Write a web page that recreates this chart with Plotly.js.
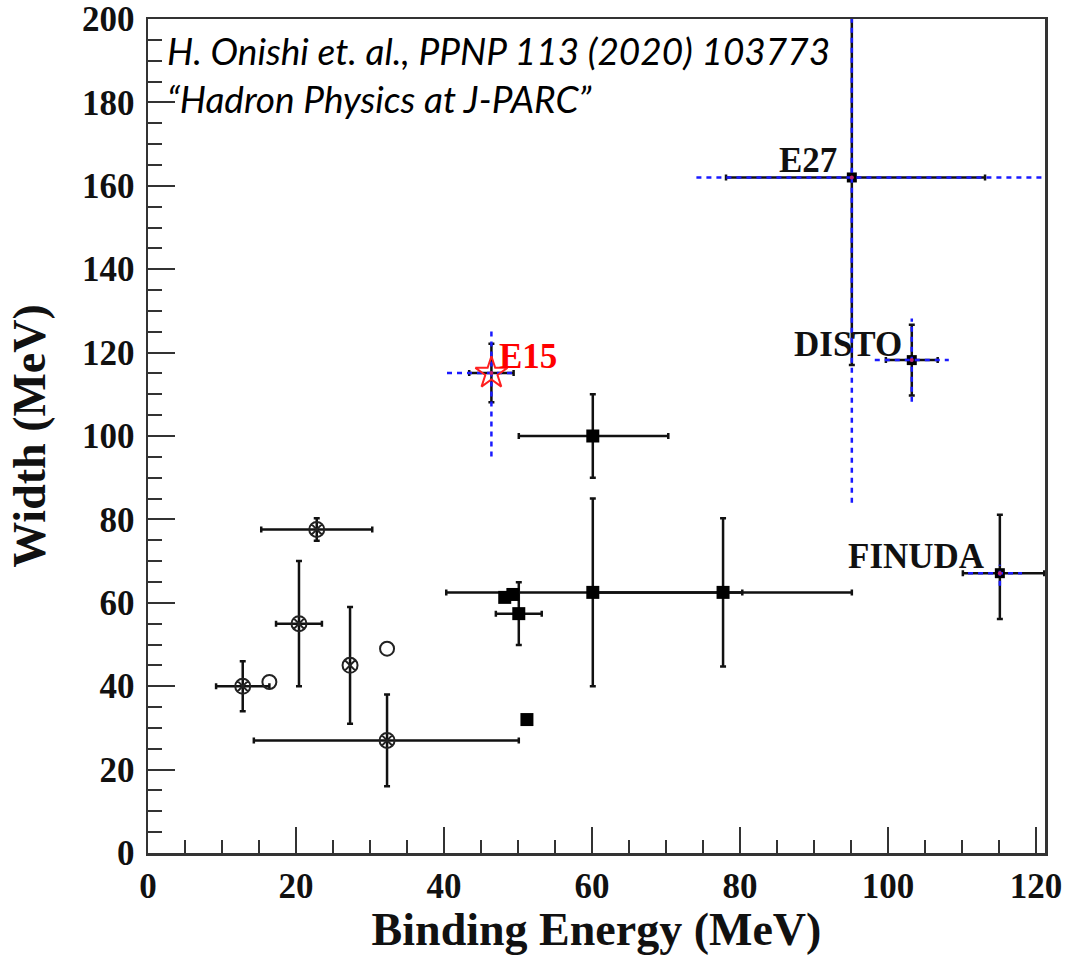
<!DOCTYPE html>
<html>
<head>
<meta charset="utf-8">
<script src="https://cdn.plot.ly/plotly-3.0.1.min.js"></script>
<style>html,body{margin:0;padding:0;background:#fff;}#chart{width:1065px;height:955px;}</style>
</head>
<body>
<div id="chart"></div>
<script>
// Group A: open circles with cross (with stat errors)
const xA = [12.8, 20.4, 22.8, 27.3, 32.3];
const yA = [40, 55, 77.6, 45, 27];
const xA_errPlus = [3.6, 3.1, 7.5, 0, 17.8];
const xA_errMinus = [3.6, 3.1, 7.5, 0, 18.0];
const yA_errPlus = [6, 15, 2.7, 14, 11];
const yA_errMinus = [6, 15, 2.7, 14, 11];

// Group B: plain open circles
const xB = [16.4, 32.3];
const yB = [41, 49];

// Group C: filled squares
const xC = [60.1, 60.1, 77.7, 48.2, 49.3, 50.1, 51.2];
const yC = [100, 62.5, 62.5, 61.3, 62, 57.4, 32];
const xC_errPlus = [10.2, 20.2, 17.4, 0, 0, 3.1, 0];
const xC_errMinus = [10, 19.8, 17.4, 0, 0, 3.1, 0];
const yC_errPlus = [10, 22.5, 17.8, 0, 0, 7.5, 0];
const yC_errMinus = [10, 22.5, 17.8, 0, 0, 7.5, 0];

// Experiments with stat (black) and syst (blue dotted) errors
const expNames = ["E27", "DISTO", "FINUDA"];
const xD = [95.1, 103.2, 115.1];
const yD = [162, 118.2, 67.1];
const xD_statPlus = [18, 3.5, 6];
const xD_statMinus = [17, 3.5, 5];
const yD_statPlus = [87, 8.5, 14];
const yD_statMinus = [45, 8.5, 11];
const xD_systPlus = [30, 5, 3];
const xD_systMinus = [21, 5, 4.3];
const yD_systPlus = [66, 10, 2];
const yD_systMinus = [78, 10, 3];
const labelX = [93.3, 102.2, 113.4];
const labelY = [166, 122, 71];

// E15
const xE15 = [46.4];
const yE15 = [115.1];
const xE15_stat = [3];
const yE15_stat = [7];
const xE15_systPlus = [3];
const xE15_systMinus = [6];
const yE15_systPlus = [10];
const yE15_systMinus = [20];

const axisColor = "#333";
const serif = "Liberation Serif, Times New Roman, serif";

// build dotted systematic segments from data arrays
function systSegments(xs, ys, xp, xm, yp, ym) {
  const sx = [], sy = [];
  for (let i = 0; i < xs.length; i++) {
    sx.push(xs[i] - xm[i], xs[i] + xp[i], null, xs[i], xs[i], null);
    sy.push(ys[i], ys[i], null, ys[i] - ym[i], ys[i] + yp[i], null);
  }
  return {sx, sy};
}

const errStyle = {type: "data", symmetric: false, color: "#111", thickness: 2.5, width: 3};

const traces = [];

traces.push({
  x: xA, y: yA, type: "scatter", mode: "markers",
  marker: {symbol: "circle-x-open", size: 15, color: "#222", line: {width: 2, color: "#222"}},
  error_x: Object.assign({}, errStyle, {array: xA_errPlus, arrayminus: xA_errMinus}),
  error_y: Object.assign({}, errStyle, {array: yA_errPlus, arrayminus: yA_errMinus}),
  showlegend: false, hoverinfo: "x+y"
});

traces.push({
  x: xB, y: yB, type: "scatter", mode: "markers",
  marker: {symbol: "circle-open", size: 14, color: "#222", line: {width: 2, color: "#222"}},
  showlegend: false
});

traces.push({
  x: xC, y: yC, type: "scatter", mode: "markers",
  marker: {symbol: "square", size: 13, color: "#000"},
  error_x: Object.assign({}, errStyle, {array: xC_errPlus, arrayminus: xC_errMinus}),
  error_y: Object.assign({}, errStyle, {array: yC_errPlus, arrayminus: yC_errMinus}),
  showlegend: false
});

traces.push({
  x: xD, y: yD, type: "scatter", mode: "markers",
  marker: {symbol: "square", size: 10, color: "#000"},
  error_x: Object.assign({}, errStyle, {array: xD_statPlus, arrayminus: xD_statMinus}),
  error_y: Object.assign({}, errStyle, {array: yD_statPlus, arrayminus: yD_statMinus}),
  showlegend: false
});

traces.push({
  x: xE15, y: yE15, type: "scatter", mode: "markers",
  marker: {symbol: "circle", size: 1, color: "rgba(0,0,0,0)"},
  error_x: Object.assign({}, errStyle, {array: xE15_stat, arrayminus: xE15_stat}),
  error_y: Object.assign({}, errStyle, {array: yE15_stat, arrayminus: yE15_stat}),
  showlegend: false
});

const sD = systSegments(xD, yD, xD_systPlus, xD_systMinus, yD_systPlus, yD_systMinus);
const sE = systSegments(xE15, yE15, xE15_systPlus, xE15_systMinus, yE15_systPlus, yE15_systMinus);
traces.push({
  x: sD.sx.concat(sE.sx), y: sD.sy.concat(sE.sy), type: "scatter", mode: "lines",
  line: {color: "#1a1aff", width: 2.5, dash: "5px,5px"},
  connectgaps: false, showlegend: false, hoverinfo: "skip"
});

traces.push({
  x: xE15, y: yE15, type: "scatter", mode: "markers",
  marker: {symbol: "star-open", size: 24, color: "#ff2020", line: {width: 2, color: "#ff2020"}},
  showlegend: false
});

traces.push({
  x: xD.concat(xE15), y: yD.concat(yE15), type: "scatter", mode: "markers",
  marker: {symbol: "circle", size: 4, color: "#c0206a"},
  showlegend: false
});

const annotations = [];
for (let i = 0; i < expNames.length; i++) {
  annotations.push({
    x: labelX[i], y: labelY[i], xref: "x", yref: "y", text: expNames[i],
    showarrow: false, xanchor: "right", yanchor: "middle",
    font: {family: serif, size: 35, color: "#111", weight: "bold"}
  });
}
annotations.push({
  x: 47.2, y: 119, xref: "x", yref: "y", text: "E15",
  showarrow: false, xanchor: "left", yanchor: "middle",
  font: {family: serif, size: 35, color: "#ff0000", weight: "bold"}
});
annotations.push({
  x: 0.019, y: 0.962, xref: "paper", yref: "paper",
  text: "<i>H. Onishi et. al., PPNP 113 (2020) 103773</i>",
  showarrow: false, xanchor: "left", yanchor: "middle",
  font: {family: "Lato, Open Sans, sans-serif", size: 37, color: "#000"}
});
annotations.push({
  x: 0.019, y: 0.905, xref: "paper", yref: "paper",
  text: "<i>\u201CHadron Physics at J-PARC\u201D</i>",
  showarrow: false, xanchor: "left", yanchor: "middle",
  font: {family: "Lato, Open Sans, sans-serif", size: 37, color: "#000"}
});

const layout = {
  width: 1065, height: 955,
  margin: {l: 148, r: 20, t: 19, b: 102},
  paper_bgcolor: "#fff", plot_bgcolor: "#fff",
  showlegend: false,
  xaxis: {
    range: [0, 121.2], tickmode: "linear", tick0: 0, dtick: 20,
    ticks: "inside", ticklen: 26, tickwidth: 2, tickcolor: axisColor,
    minor: {dtick: 5, tick0: 0, ticks: "inside", ticklen: 13, tickwidth: 2, tickcolor: axisColor, showgrid: false},
    showline: true, linewidth: 2.5, linecolor: axisColor, mirror: true,
    showgrid: false, zeroline: false,
    tickfont: {family: serif, size: 35, color: "#111", weight: "bold"},
    title: {text: "Binding Energy (MeV)", standoff: 8, font: {family: serif, size: 46, color: "#111", weight: "bold"}}
  },
  yaxis: {
    range: [0, 200], tickmode: "linear", tick0: 0, dtick: 20,
    ticks: "inside", ticklen: 27, tickwidth: 2, tickcolor: axisColor,
    minor: {dtick: 5, tick0: 0, ticks: "inside", ticklen: 14, tickwidth: 2, tickcolor: axisColor, showgrid: false},
    showline: true, linewidth: 2.5, linecolor: axisColor, mirror: true,
    showgrid: false, zeroline: false, ticklabelstandoff: 4,
    tickfont: {family: serif, size: 35, color: "#111", weight: "bold"},
    title: {text: "Width (MeV)", standoff: 22, font: {family: serif, size: 46, color: "#111", weight: "bold"}}
  },
  annotations: annotations
};

Plotly.newPlot("chart", traces, layout, {displayModeBar: false, staticPlot: true});
</script>
</body>
</html>
